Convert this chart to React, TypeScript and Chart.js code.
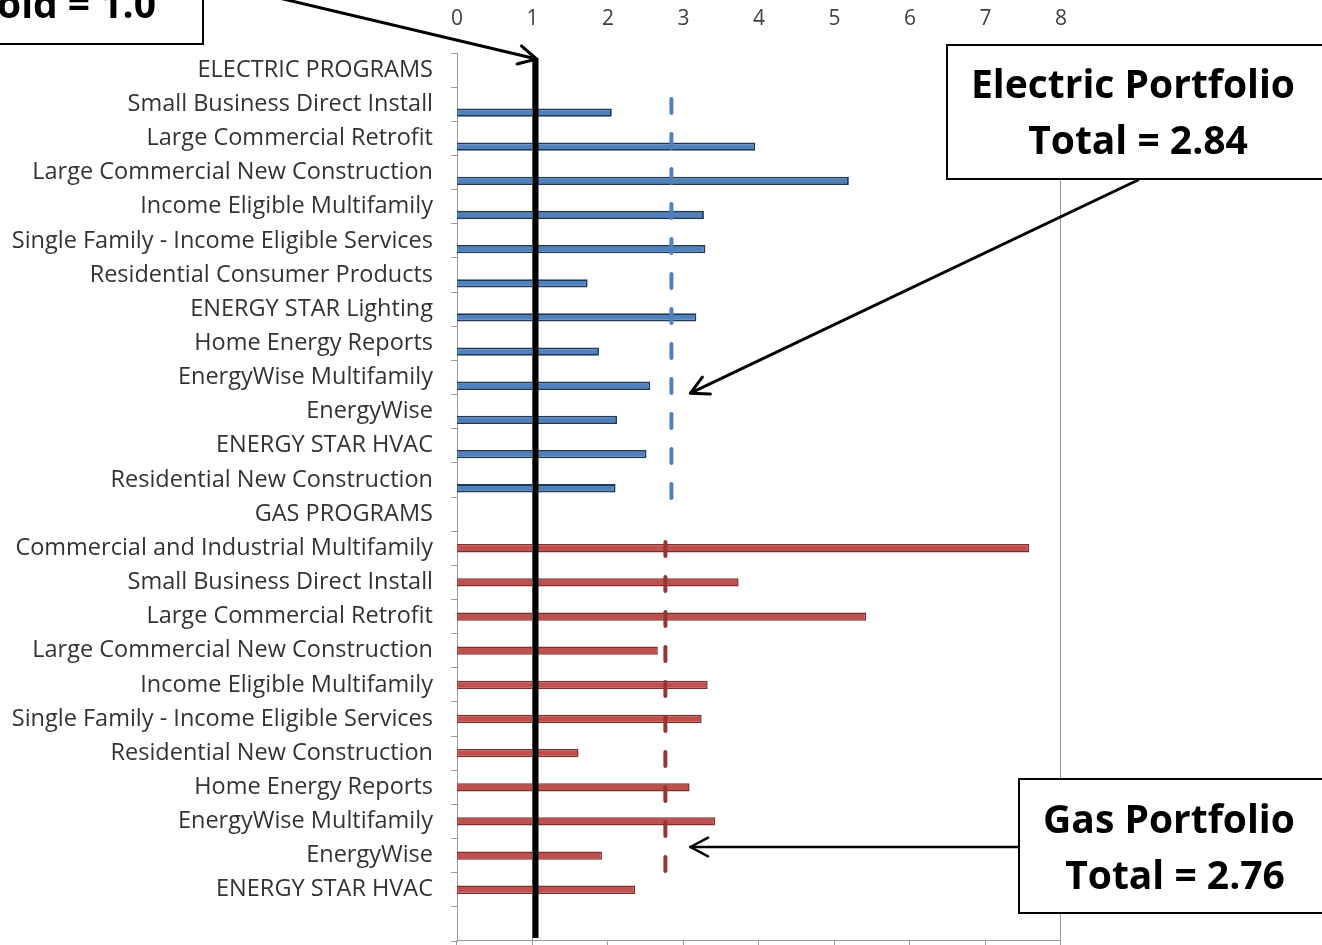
import { useEffect, useRef } from "react";
import { Chart, registerables } from "chart.js";

Chart.register(...registerables);

// Program names, top to bottom; the trailing blank row leaves room above the bottom axis
const CATEGORIES = [
  "ELECTRIC PROGRAMS",
  "Small Business Direct Install",
  "Large Commercial Retrofit",
  "Large Commercial New Construction",
  "Income Eligible Multifamily",
  "Single Family - Income Eligible Services",
  "Residential Consumer Products",
  "ENERGY STAR Lighting",
  "Home Energy Reports",
  "EnergyWise Multifamily",
  "EnergyWise",
  "ENERGY STAR HVAC",
  "Residential New Construction",
  "GAS PROGRAMS",
  "Commercial and Industrial Multifamily",
  "Small Business Direct Install",
  "Large Commercial Retrofit",
  "Large Commercial New Construction",
  "Income Eligible Multifamily",
  "Single Family - Income Eligible Services",
  "Residential New Construction",
  "Home Energy Reports",
  "EnergyWise Multifamily",
  "EnergyWise",
  "ENERGY STAR HVAC",
  "",
];

// Benefit/cost ratios per program
const ELECTRIC_VALUES: (number | null)[] = [
  null, 2.05, 3.95, 5.19, 3.27, 3.29, 1.73, 3.17, 1.88, 2.56, 2.12, 2.51, 2.1,
  null, null, null, null, null, null, null, null, null, null, null, null, null,
];
const GAS_VALUES: (number | null)[] = [
  null, null, null, null, null, null, null, null, null, null, null, null, null,
  null, 7.58, 3.73, 5.42, 2.66, 3.32, 3.24, 1.61, 3.08, 3.42, 1.92, 2.36, null,
];
const EMPTY_SLOT: (number | null)[] = CATEGORIES.map(() => null);

const X_MIN = 0;
const X_MAX = 8;
const X_STEP = 1;

const THRESHOLD = 1.0;
const ELECTRIC_TOTAL = 2.84;
const GAS_TOTAL = 2.76;

// Row spans (category index) covered by each portfolio reference line
const ELECTRIC_SPAN = [0.79, 12.59];
const GAS_SPAN = [13.76, 23.77];

const LABEL_FONT = "'Open Sans', 'DejaVu Sans', sans-serif";
const AXIS_GREY = "#9a9a9a";

function arrow(ctx: CanvasRenderingContext2D, x0: number, y0: number, x1: number, y1: number, w: number) {
  ctx.save();
  ctx.strokeStyle = "#000";
  ctx.lineWidth = w;
  ctx.lineCap = "round";
  ctx.lineJoin = "round";
  ctx.beginPath();
  ctx.moveTo(x0, y0);
  ctx.lineTo(x1, y1);
  ctx.stroke();
  const a = Math.atan2(y1 - y0, x1 - x0);
  const len = 20;
  const spread = Math.PI / 6.5;
  ctx.beginPath();
  ctx.moveTo(x1 - len * Math.cos(a - spread), y1 - len * Math.sin(a - spread));
  ctx.lineTo(x1, y1);
  ctx.lineTo(x1 - len * Math.cos(a + spread), y1 - len * Math.sin(a + spread));
  ctx.stroke();
  ctx.restore();
}

function box(ctx: CanvasRenderingContext2D, x: number, y: number, w: number, h: number) {
  ctx.save();
  ctx.fillStyle = "#fff";
  ctx.fillRect(x, y, w, h);
  ctx.strokeStyle = "#000";
  ctx.lineWidth = 2;
  ctx.strokeRect(x, y, w, h);
  ctx.restore();
}

function boxText(ctx: CanvasRenderingContext2D, text: string, x: number, y: number, align: CanvasTextAlign) {
  ctx.save();
  ctx.fillStyle = "#000";
  ctx.font = `bold 39px ${LABEL_FONT}`;
  ctx.textAlign = align;
  ctx.textBaseline = "alphabetic";
  ctx.fillText(text, x, y);
  ctx.restore();
}

const overlays = {
  id: "overlays",
  afterDatasetsDraw(chart: any) {
    const { ctx, chartArea, scales } = chart;
    const xs = scales.x;
    const ys = scales.y;
    const top = chartArea.top;
    const bottom = chartArea.bottom;

    ctx.save();
    // thin reference gridlines at 1 and at the axis maximum
    ctx.strokeStyle = AXIS_GREY;
    ctx.lineWidth = 1;
    [THRESHOLD, X_MAX].forEach((v) => {
      const px = Math.round(xs.getPixelForValue(v)) - 0.5;
      ctx.beginPath();
      ctx.moveTo(px, top);
      ctx.lineTo(px, bottom);
      ctx.stroke();
    });

    // bottom axis line with outward tick marks
    const y0 = Math.round(bottom) - 0.5;
    ctx.beginPath();
    ctx.moveTo(xs.getPixelForValue(X_MIN), y0);
    ctx.lineTo(xs.getPixelForValue(X_MAX), y0);
    ctx.stroke();
    for (let v = X_MIN; v <= X_MAX; v += X_STEP) {
      const px = Math.round(xs.getPixelForValue(v)) - 0.5;
      ctx.beginPath();
      ctx.moveTo(px, y0);
      ctx.lineTo(px, y0 + 6);
      ctx.stroke();
    }

    // threshold line: left edge sits on the value
    const tw = 6;
    const tx = xs.getPixelForValue(THRESHOLD) + tw / 2;
    ctx.strokeStyle = "#000";
    ctx.lineWidth = tw;
    ctx.beginPath();
    ctx.moveTo(tx, top + 5);
    ctx.lineTo(tx, bottom - 3);
    ctx.stroke();

    // portfolio totals as dashed reference lines
    const dashed = (v: number, span: number[], color: string) => {
      const px = xs.getPixelForValue(v);
      ctx.strokeStyle = color;
      ctx.lineWidth = 4;
      ctx.lineCap = "round";
      ctx.setLineDash([14, 21]);
      ctx.beginPath();
      ctx.moveTo(px, ys.getPixelForValue(span[0]) + 2);
      ctx.lineTo(px, ys.getPixelForValue(span[1]) - 2);
      ctx.stroke();
      ctx.setLineDash([]);
    };
    dashed(ELECTRIC_TOTAL, ELECTRIC_SPAN, "#4F81BD");
    dashed(GAS_TOTAL, GAS_SPAN, "#943634");
    ctx.restore();
  },
  afterDraw(chart: any) {
    const { ctx, chartArea, scales } = chart;
    const xs = scales.x;
    const ys = scales.y;

    // threshold callout
    box(ctx, -40, -40, 243, 84);
    boxText(ctx, "Threshold = " + THRESHOLD.toFixed(1), 156, 18, "right");
    arrow(ctx, 203, -20, xs.getPixelForValue(THRESHOLD) + 4, chartArea.top + 6, 3);

    // electric callout
    box(ctx, 947, 45, 400, 134);
    boxText(ctx, "Electric Portfolio", 1133, 98, "center");
    boxText(ctx, "Total = " + ELECTRIC_TOTAL.toFixed(2), 1138, 154, "center");
    arrow(ctx, 1138, 180, xs.getPixelForValue(ELECTRIC_TOTAL) + 19, ys.getPixelForValue(9.46), 3);

    // gas callout
    box(ctx, 1019, 779, 400, 134);
    boxText(ctx, "Gas Portfolio", 1169, 833, "center");
    boxText(ctx, "Total = " + GAS_TOTAL.toFixed(2), 1175, 889, "center");
    arrow(ctx, 1019, 847, xs.getPixelForValue(GAS_TOTAL) + 25, 847, 2.5);
  },
};

export default function App() {
  const ref = useRef<HTMLCanvasElement | null>(null);

  useEffect(() => {
    const canvas = ref.current;
    if (!canvas) return;
    const chart = new Chart(canvas, {
      type: "bar",
      data: {
        labels: CATEGORIES,
        datasets: [
          {
            label: "",
            data: EMPTY_SLOT,
            backgroundColor: "transparent",
          },
          {
            label: "Gas",
            data: GAS_VALUES,
            backgroundColor: "#C0504D",
            borderColor: "#7E2F2D",
            borderWidth: 1.5,
          },
          {
            label: "Electric",
            data: ELECTRIC_VALUES,
            backgroundColor: "#4F81BD",
            borderColor: "#1F3859",
            borderWidth: 1.8,
          },
        ],
      },
      options: {
        indexAxis: "y",
        responsive: false,
        animation: false,
        devicePixelRatio: 1,
        layout: { padding: { left: 0, right: 261, top: 0, bottom: 4 } },
        datasets: {
          bar: { categoryPercentage: 0.73, barPercentage: 1.0 },
        },
        plugins: {
          legend: { display: false },
          tooltip: { enabled: false },
        },
        scales: {
          x: {
            position: "top",
            min: X_MIN,
            max: X_MAX,
            grid: { display: false, drawTicks: false },
            border: { display: false },
            ticks: {
              stepSize: X_STEP,
              padding: 21,
              color: "#404040",
              font: { family: LABEL_FONT, size: 21 },
            },
            afterFit(scale: any) {
              scale.height = 53;
            },
          },
          y: {
            grid: {
              display: true,
              offset: true,
              drawOnChartArea: false,
              drawTicks: true,
              tickLength: 6,
              color: AXIS_GREY,
            },
            border: { display: true, color: AXIS_GREY },
            ticks: {
              autoSkip: false,
              padding: 18,
              color: "#333333",
              font: { family: LABEL_FONT, size: 23.5 },
            },
            afterFit(scale: any) {
              scale.width = 457;
              scale.paddingTop = 0;
              scale.paddingBottom = 0;
            },
          },
        },
      },
      plugins: [overlays],
    });
    return () => chart.destroy();
  }, []);

  return (
    <div style={{ position: "absolute", left: 0, top: 0, width: 1322, height: 945, background: "#fff" }}>
      <canvas ref={ref} width={1322} height={945} style={{ display: "block" }} />
    </div>
  );
}
